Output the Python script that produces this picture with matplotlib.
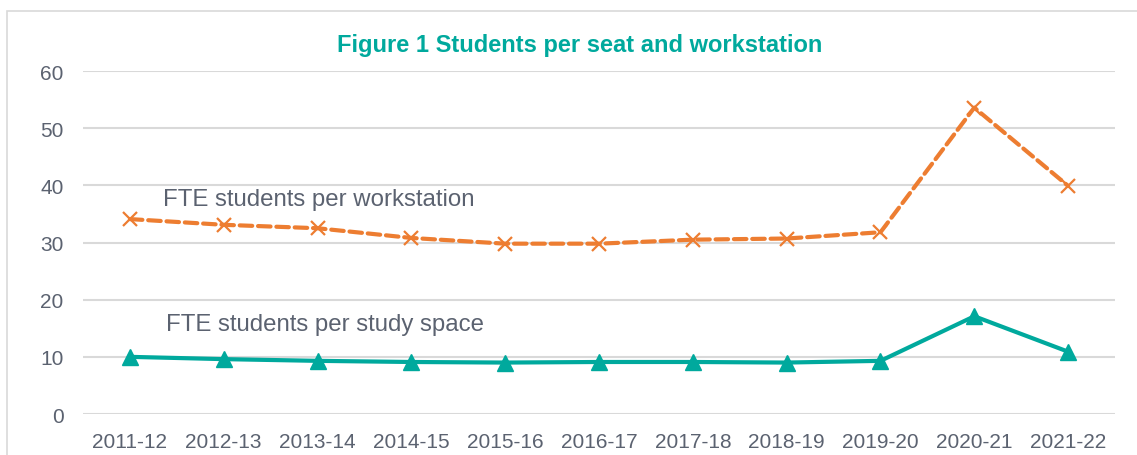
import matplotlib.pyplot as plt
from matplotlib.patches import Rectangle

plt.rcParams['font.family'] = ['Liberation Sans', 'DejaVu Sans']

years = ['2011-12', '2012-13', '2013-14', '2014-15', '2015-16', '2016-17',
         '2017-18', '2018-19', '2019-20', '2020-21', '2021-22']
per_workstation = [34.1, 33.1, 32.5, 30.8, 29.8, 29.8, 30.5, 30.7, 31.8, 53.6, 39.9]
per_study_space = [10.0, 9.6, 9.3, 9.1, 9.0, 9.1, 9.1, 9.0, 9.3, 17.1, 10.9]

orange = '#ED7D31'
teal = '#00A99D'
grey_text = '#5b6270'

fig = plt.figure(figsize=(11.37, 4.56), dpi=100)
ax = fig.add_axes([0.073, 0.0899, 0.9077, 0.7521])

x = range(len(years))
ax.plot(x, per_workstation, color=orange, linewidth=3, linestyle=(0, (3, 1.4)),
        dash_capstyle='round', marker='x', markersize=10, markeredgewidth=1.6, zorder=3)
ax.plot(x, per_study_space, color=teal, linewidth=3, marker='^', markersize=11, zorder=3)

ax.text(0.35, 37.6, 'FTE students per workstation', fontsize=17.3, color=grey_text, va='center')
ax.text(0.385, 15.7, 'FTE students per study space', fontsize=17.3, color=grey_text, va='center')

ax.set_xlim(-0.5, len(years) - 0.5)
ax.set_ylim(0, 60)
ax.set_yticks(range(0, 61, 10))
ax.set_xticks(list(x))
ax.set_xticklabels(years)
ax.tick_params(axis='both', length=0, labelsize=15, labelcolor=grey_text)
ax.tick_params(axis='y', pad=14)
ax.tick_params(axis='x', pad=13)
ax.grid(axis='y', color='#d9d9d9', linewidth=1.5)
ax.set_axisbelow(True)
for s in ax.spines.values():
    s.set_visible(False)

fig.text(0.51, 0.90, 'Figure 1 Students per seat and workstation', fontsize=17,
         fontweight='bold', color=teal, ha='center', va='center')

# chart area border (cut off at the right and bottom in the original)
fig.add_artist(Rectangle((7 / 1137, -0.2), 1.2, 1.2 - 12 / 456,
                         transform=fig.transFigure, fill=False,
                         edgecolor='#d9d9d9', linewidth=1.2))

fig.savefig('out.png', dpi=100)
